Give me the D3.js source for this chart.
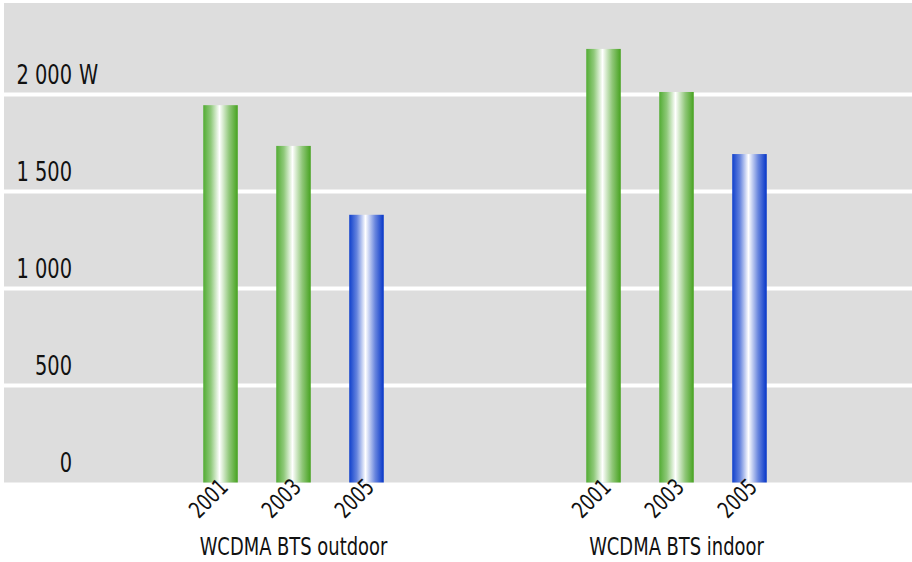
<!DOCTYPE html>
<html>
<head>
<meta charset="utf-8">
<script src="https://cdn.jsdelivr.net/npm/d3@7"></script>
<style>
  html, body { margin: 0; padding: 0; background: #fff; }
  svg text { font-family: "DejaVu Sans Condensed", "DejaVu Sans", sans-serif; font-stretch: condensed; fill: #111; }
</style>
</head>
<body>
<svg id="chart" width="912" height="562"></svg>
<script>
// Power consumption of WCDMA base stations, by installation type and year
const groups = ["WCDMA BTS outdoor", "WCDMA BTS indoor"];
const years = ["2001", "2003", "2005"];
const outdoorValues = [1945, 1735, 1380];
const indoorValues = [2235, 2013, 1693];
const yTicks = [0, 500, 1000, 1500, 2000];
const yTickLabels = ["0", "500", "1 000", "1 500", "2 000"];
const unitLabel = "W";

const seriesByGroup = [outdoorValues, indoorValues];

const svg = d3.select("#chart");
const plot = { left: 4, right: 912, top: 3, bottom: 482.5 };
const narrow = 0.83; // horizontal squeeze for a narrow typeface look

const y = d3.scaleLinear().domain([0, 2500]).range([plot.bottom, plot.bottom - 485]);
const xGroup = d3.scalePoint().domain(groups).range([293.5, 676.5]);
const xYear = d3.scaleBand().domain(years).range([-90.25, 90.25]).paddingInner(0.527).paddingOuter(0);

// gradients for the cylindrical bar look
const defs = svg.append("defs");
function makeGrad(id, edgeL, edgeR) {
  const g = defs.append("linearGradient").attr("id", id)
    .attr("x1", "0").attr("x2", "1").attr("y1", "0").attr("y2", "0");
  g.append("stop").attr("offset", "0%").attr("stop-color", edgeL);
  g.append("stop").attr("offset", "22%").attr("stop-color", d3.interpolateRgb(edgeL, "#fff")(0.35));
  g.append("stop").attr("offset", "47%").attr("stop-color", "#ffffff");
  g.append("stop").attr("offset", "75%").attr("stop-color", d3.interpolateRgb(edgeR, "#fff")(0.4));
  g.append("stop").attr("offset", "100%").attr("stop-color", edgeR);
}
makeGrad("gGreen", "#52ac33", "#46a21f");
makeGrad("gBlue", "#1040cc", "#0535c8");

// background
svg.append("rect")
  .attr("x", plot.left).attr("y", plot.top)
  .attr("width", plot.right - plot.left).attr("height", plot.bottom - plot.top)
  .attr("fill", "#dddddd");

// gridlines
svg.append("g").selectAll("line")
  .data(yTicks.filter(d => d > 0))
  .join("line")
  .attr("x1", plot.left).attr("x2", plot.right)
  .attr("y1", d => y(d)).attr("y2", d => y(d))
  .attr("stroke", "#ffffff").attr("stroke-width", 4);

// y labels sit just above their gridline
const yl = svg.append("g");
yl.selectAll("text")
  .data(yTicks)
  .join("text")
  .attr("text-anchor", "end")
  .attr("font-size", 26)
  .attr("transform", d => `translate(72,${y(d) - 11}) scale(${narrow},1)`)
  .text((d, i) => yTickLabels[i]);
yl.append("text")
  .attr("font-size", 26)
  .attr("transform", `translate(79,${y(yTicks[yTicks.length - 1]) - 11}) scale(${narrow},1)`)
  .text(unitLabel);

// bars
groups.forEach((gName, gi) => {
  const gx = xGroup(gName);
  const vals = seriesByGroup[gi];
  const g = svg.append("g").attr("transform", `translate(${gx},0)`);
  g.selectAll("rect")
    .data(years.map((yr, i) => ({ yr, v: vals[i] })))
    .join("rect")
    .attr("x", d => xYear(d.yr))
    .attr("width", xYear.bandwidth())
    .attr("y", d => y(d.v))
    .attr("height", d => y(0) - y(d.v))
    .attr("fill", d => d.yr === "2005" ? "url(#gBlue)" : "url(#gGreen)");

  g.selectAll("text.year")
    .data(years)
    .join("text")
    .attr("class", "year")
    .attr("text-anchor", "end")
    .attr("font-size", 23)
    .attr("transform", d => `translate(${xYear(d) + xYear.bandwidth() / 2 + 9},${plot.bottom + 6}) rotate(-45) scale(${narrow},1)`)
    .text(d => d);

  svg.append("text")
    .attr("text-anchor", "middle")
    .attr("font-size", 24)
    .attr("transform", `translate(${gx},555) scale(${narrow},1)`)
    .text(gName);
});
</script>
</body>
</html>
